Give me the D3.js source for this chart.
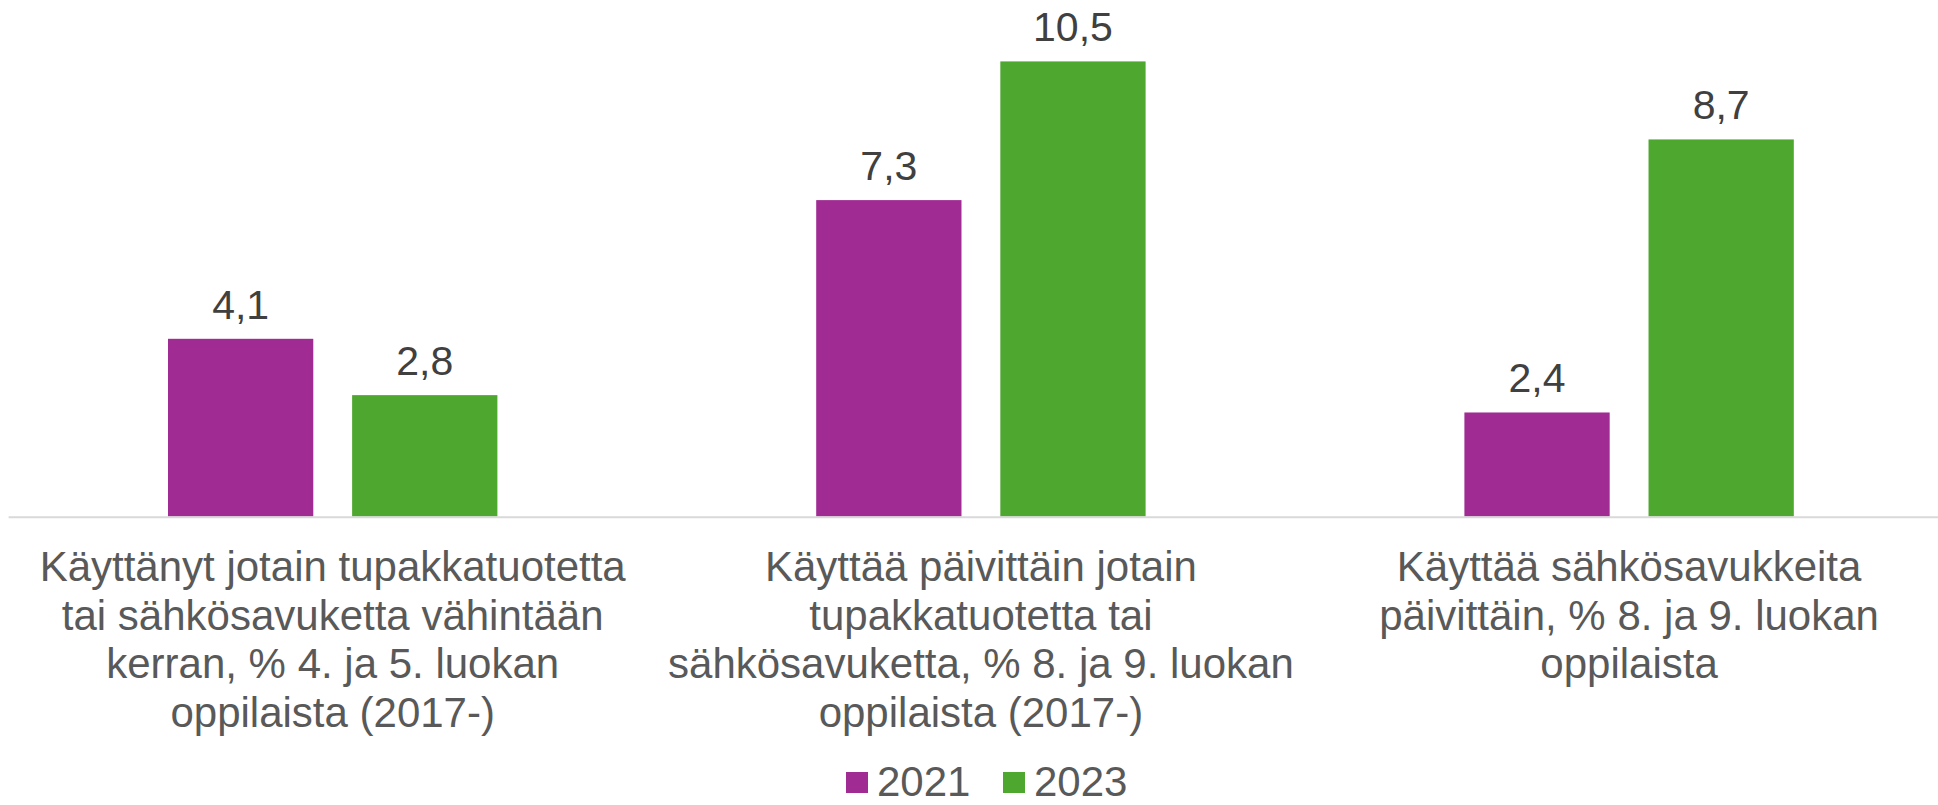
<!DOCTYPE html>
<html lang="fi">
<head>
<meta charset="utf-8">
<script src="https://cdn.jsdelivr.net/npm/d3@7"></script>
<style>
  html, body { margin: 0; padding: 0; background: #ffffff; }
  svg { display: block; font-family: Arial, "Liberation Sans", sans-serif; }
</style>
</head>
<body>
<svg id="chart" width="1938" height="805"></svg>
<script>
// Category labels (one entry per line of the wrapped label)
const categoryLines = [
  ["Käyttänyt jotain tupakkatuotetta", "tai sähkösavuketta vähintään", "kerran, % 4. ja 5. luokan", "oppilaista (2017-)"],
  ["Käyttää päivittäin jotain", "tupakkatuotetta tai", "sähkösavuketta, % 8. ja 9. luokan", "oppilaista (2017-)"],
  ["Käyttää sähkösavukkeita", "päivittäin, % 8. ja 9. luokan", "oppilaista"]
];
const categories = ["c1", "c2", "c3"];
const seriesNames = ["2021", "2023"];
const values2021 = [4.1, 7.3, 2.4];
const values2023 = [2.8, 10.5, 8.7];
const seriesColors = ["#A02B93", "#4EA72E"];

const W = 1938, H = 805;
const svg = d3.select("#chart");

const seriesValues = [values2021, values2023];
const rows = categories.map((c, i) => ({
  cat: c,
  lines: categoryLines[i],
  bars: seriesNames.map((s, j) => ({ series: s, value: seriesValues[j][i], color: seriesColors[j] }))
}));

// Scales
const x0 = d3.scaleBand().domain(categories).range([8.6, 1953.2]).paddingInner(0).paddingOuter(0);
const bw = x0.bandwidth();
const outer = 159.4;
const x1 = d3.scaleBand().domain(seriesNames).range([outer, bw - outer]).paddingInner(0.211).paddingOuter(0);
const y = d3.scaleLinear().domain([0, 12]).range([516.5, -3.6]);

const fmt = v => d3.format(".1f")(v).replace(".", ",");

// Bars
const groups = svg.append("g").selectAll("g.grp")
  .data(rows).join("g")
  .attr("class", "grp")
  .attr("transform", d => `translate(${x0(d.cat)},0)`);

groups.selectAll("rect").data(d => d.bars).join("rect")
  .attr("x", d => x1(d.series))
  .attr("y", d => y(d.value))
  .attr("width", x1.bandwidth())
  .attr("height", d => y(0) - y(d.value))
  .attr("fill", d => d.color);

// Value labels
groups.selectAll("text.val").data(d => d.bars).join("text")
  .attr("class", "val")
  .attr("x", d => x1(d.series) + x1.bandwidth() / 2)
  .attr("y", d => y(d.value) - 20)
  .attr("text-anchor", "middle")
  .attr("font-size", 41)
  .attr("fill", "#404040")
  .text(d => fmt(d.value));

// Baseline
svg.append("line")
  .attr("x1", x0.range()[0]).attr("x2", W)
  .attr("y1", y(0) + 0.8).attr("y2", y(0) + 0.8)
  .attr("stroke", "#d9d9d9").attr("stroke-width", 2);

// Category labels
const lineH = 48.5;
const catText = svg.append("g").selectAll("text.cat")
  .data(rows).join("text")
  .attr("class", "cat")
  .attr("text-anchor", "middle")
  .attr("font-size", 42)
  .attr("fill", "#595959");
catText.selectAll("tspan").data(d => d.lines.map(l => ({ l, cx: x0(d.cat) + bw / 2 }))).join("tspan")
  .attr("x", d => d.cx)
  .attr("y", (d, i) => 581 + i * lineH)
  .text(d => d.l);

// Legend
const legend = svg.append("g").attr("transform", "translate(846,0)");
const legendX = [0, 157];
seriesNames.forEach((s, j) => {
  const g = legend.append("g").attr("transform", `translate(${legendX[j]},0)`);
  g.append("rect").attr("x", 0).attr("y", 772).attr("width", 22).attr("height", 21).attr("fill", seriesColors[j]);
  g.append("text").attr("x", 31).attr("y", 796).attr("font-size", 42).attr("fill", "#595959").text(s);
});
</script>
</body>
</html>
